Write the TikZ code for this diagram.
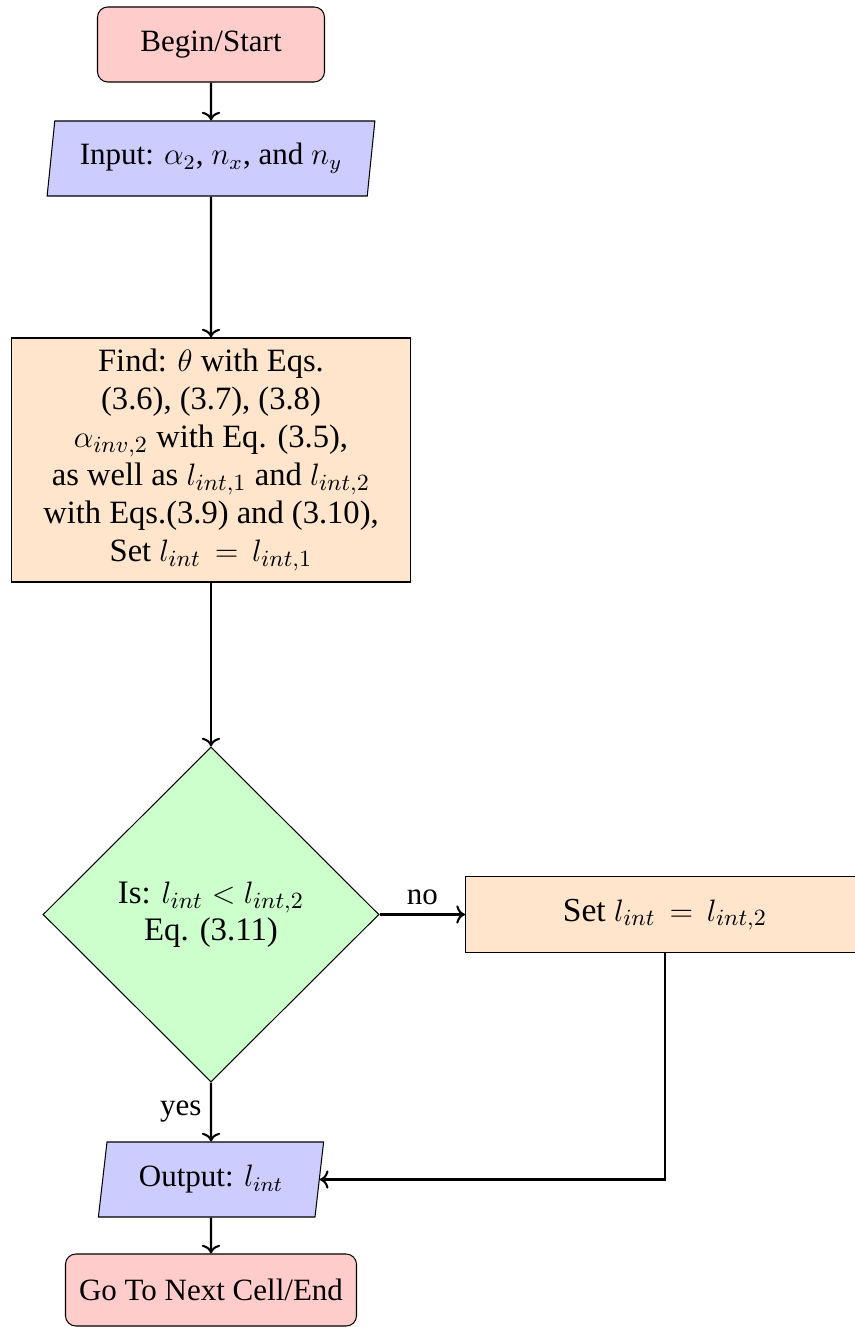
\documentclass[tikz,border=0pt]{standalone}
\usepackage[no-math]{fontspec}
\setmainfont{Liberation Serif}
\newfontfamily\tms{Liberation Serif}
\usetikzlibrary{shapes.geometric,arrows.meta}
\begin{document}
\begin{tikzpicture}[x=0.387pt,y=-0.387pt,
  font=\tms\fontsize{12}{14.5}\selectfont,
  sz/.style 2 args={minimum width=#1*0.387pt, minimum height=#2*0.387pt},
  base/.style={draw=black, line width=0.4pt, inner sep=0pt, text=black},
  startstop/.style={base, rectangle, rounded corners=4pt, fill=red!20},
  iobox/.style={base, trapezium, trapezium left angle=78, trapezium right angle=102,
                trapezium stretches=true, fill=blue!20},
  procbox/.style={base, rectangle, fill=orange!20},
  decbox/.style={base, diamond, fill=green!20, align=center,
                 font=\tms\fontsize{12.7}{14.2}\selectfont},
  arr/.style={->, line width=0.8pt},
  lbl/.style={inner sep=3.33pt}
]
\useasboundingbox (0,0) rectangle (854,1327);

\node[startstop, sz={227}{75}] (start) at (211,44.5) {Begin/Start};
\node[iobox, sz={328}{75}] (in) at (211,158.5) {Input: $\alpha_2$, $n_x$, and $n_y$};
\node[procbox, sz={399}{244}, align=center,
      font=\tms\fontsize{12.6}{14.7}\selectfont] (find) at (211,460)
  {Find: $\theta$ with Eqs.\\
   (3.6), (3.7), (3.8)\\
   $\alpha_{inv,2}$ with Eq. (3.5),\\
   as well as $l_{int,1}$ and $l_{int,2}$\\
   with Eqs.(3.9) and (3.10),\\
   Set $l_{int}\,=\,l_{int,1}$};
\node[decbox, sz={336}{335}] (dec) at (211,914.5) {Is: $l_{int} < l_{int,2}$\\ Eq. (3.11)};
\node[procbox, sz={399}{76}, font=\tms\fontsize{13}{15}\selectfont] (set) at (665,914.5) {Set $l_{int}\,=\,l_{int,2}$};
\node[iobox, sz={226}{75}] (out) at (211,1179.5) {Output: $l_{int}$};
\node[startstop, sz={291}{72}] (stop) at (211,1290) {Go To Next Cell/End};

\draw[arr] (start) -- (in);
\draw[arr] (in) -- (find);
\draw[arr] (find) -- (dec);
\draw[arr] (dec.east) -- node[lbl, above] (nolbl) {no} (set.west);
\draw[arr] (dec.south) -- node[lbl, left] (yeslbl) {yes} (out.north);
\draw[arr] (set.south) |- (out.east);
\draw[arr] (out) -- (stop);
\end{tikzpicture}
\end{document}
